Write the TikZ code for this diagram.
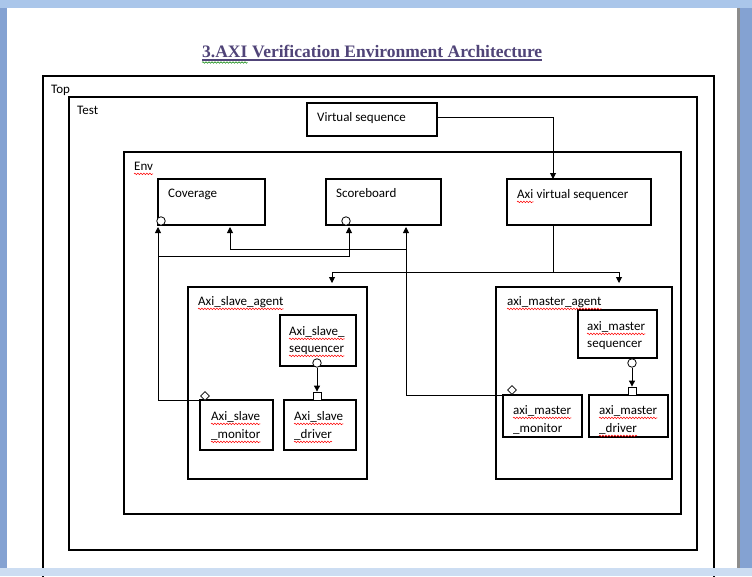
\documentclass[tikz,border=0pt]{standalone}
\usepackage{fontspec}
\setmainfont{Carlito}
\newfontfamily\titlefont{Liberation Serif}
\usetikzlibrary{arrows.meta,shapes.geometric,decorations.pathmorphing}

\definecolor{titlecol}{RGB}{80,68,120}
\definecolor{chrome}{RGB}{132,162,210}
\definecolor{chrometop}{RGB}{170,198,234}
\definecolor{chromebot}{RGB}{204,221,242}

% spell-check squiggle under a named text node
\newcommand\squig[2][red]{\draw[wave,#1] ([yshift=-3pt]#2.base west) -- ([yshift=-3pt]#2.base east);}

\begin{document}
\begin{tikzpicture}[x=1pt,y=-1pt,
    box/.style={draw,line width=1.1pt,anchor=north west,inner sep=0pt,outer sep=0pt},
    lbl/.style={anchor=mid west,inner sep=0pt,yshift=-2.5pt,font=\fontsize{13}{16}\selectfont},
    conn/.style={line width=0.9pt},
    >={Triangle[length=6pt,width=6pt]},
    wave/.style={line width=0.5pt,decorate,decoration={snake,amplitude=0.8pt,segment length=3pt}},
    lolli/.style={circle,draw,fill=white,line width=0.8pt,minimum size=8.5pt,inner sep=0pt},
    sqport/.style={rectangle,draw,fill=white,line width=0.8pt,minimum size=8pt,inner sep=0pt},
    dmport/.style={diamond,draw,fill=white,line width=0.7pt,minimum size=9pt,inner sep=0pt}]
        \useasboundingbox (0,0) rectangle (752,576);
        % window
        \fill[chrome] (0,0) rectangle (752,576);
        \fill[chrometop] (0,0) rectangle (752,8);
        \fill[white] (7,8) rectangle (737,568);
        \fill[black!45] (737,8) rectangle (740,568);
        % title
        \node[anchor=base west,inner sep=0pt,text=titlecol,font=\titlefont\fontsize{17.5}{20}\selectfont\bfseries]
            (ttlnum) at (202,57) {3.AXI};
        \node[anchor=base west,inner sep=0pt,text=titlecol,font=\titlefont\fontsize{17.5}{20}\selectfont\bfseries]
            (title) at ([xshift=4.4pt]ttlnum.base east) {Verification Environment Architecture};
        \draw[titlecol,line width=1.3pt] ([yshift=-3pt]ttlnum.base west) -- ([yshift=-3pt]title.base east);
        \draw[wave,green!50!black] ([yshift=-5.5pt]ttlnum.base west) -- ([yshift=-5.5pt]ttlnum.base east);
        % containers
        \node[box,minimum width=671pt,minimum height=530pt] (topbox) at (43,76) {};
        \node[box,minimum width=628pt,minimum height=453pt] (testbox) at (69,97) {};
        \node[box,minimum width=557pt,minimum height=362pt] (envbox) at (124,152) {};
        \node[lbl] (toptxt) at (51,89) {Top};
        \node[lbl] (testtxt) at (77,110) {Test};
        \node[lbl] (envtxt) at (134,166) {Env};
        % components
        \node[box,minimum width=130pt,minimum height=33pt] (vseq) at (307,103) {};
        \node[box,minimum width=107pt,minimum height=46pt] (cov) at (158,179) {};
        \node[box,minimum width=115pt,minimum height=46pt] (sb) at (326,179) {};
        \node[box,minimum width=144pt,minimum height=46pt] (vsqr) at (507,179) {};
        \node[lbl] (vseqtxt) at (317,117) {Virtual sequence};
        \node[lbl] (covtxt) at (168,193) {Coverage};
        \node[lbl] (sbtxt) at (336,193) {Scoreboard};
        \node[lbl] (vsqrtxt) at (517,194) {Axi};
        \node[lbl,anchor=base west] (vsqrtxtb) at ([xshift=2.9pt,yshift=2.5pt]vsqrtxt.base east) {virtual sequencer};
        % slave agent
        \node[box,minimum width=179pt,minimum height=192pt] (sagt) at (188,287) {};
        \node[box,minimum width=76pt,minimum height=51pt] (ssqr) at (280,315) {};
        \node[box,minimum width=73pt,minimum height=50pt] (smon) at (200,400) {};
        \node[box,minimum width=72pt,minimum height=50pt] (sdrv) at (284,400) {};
        \node[lbl] (sagttxt) at (198,301) {Axi\_slave\_agent};
        \node[lbl] (ssqrtxt) at (289,331) {Axi\_slave\_};
        \node[lbl] (ssqrtxtb) at (289,348) {sequencer};
        \node[lbl] (smontxt) at (211,416) {Axi\_slave};
        \node[lbl] (smontxtb) at (211,434) {\_monitor};
        \node[lbl] (sdrvtxt) at (294,416) {Axi\_slave};
        \node[lbl] (sdrvtxtb) at (294,434) {\_driver};
        % master agent
        \node[box,minimum width=176pt,minimum height=192pt] (magt) at (496,287) {};
        \node[box,minimum width=79pt,minimum height=48pt] (msqr) at (578,310) {};
        \node[box,minimum width=79pt,minimum height=42pt] (mmon) at (503,395) {};
        \node[box,minimum width=79pt,minimum height=42pt] (mdrv) at (589,395) {};
        \node[lbl] (magttxt) at (507,301) {axi\_master\_agent};
        \node[lbl] (msqrtxt) at (587,326) {axi\_master};
        \node[lbl] (msqrtxtb) at (587,343) {sequencer};
        \node[lbl] (mmontxt) at (513,410) {axi\_master};
        \node[lbl] (mmontxtb) at (513,428) {\_monitor};
        \node[lbl] (mdrvtxt) at (599,410) {axi\_master};
        \node[lbl] (mdrvtxtb) at (599,428) {\_driver};
        % squiggles
        \squig{envtxt} \squig{vsqrtxt}
        \squig{sagttxt} \squig{ssqrtxt} \squig{ssqrtxtb}
        \squig{smontxt} \squig{smontxtb} \squig{sdrvtxt} \squig{sdrvtxtb}
        \squig{magttxt} \squig{msqrtxt} \squig{mmontxt} \squig{mdrvtxt} \squig{mdrvtxtb}
        % virtual sequence flow
        \draw[conn,->] ([yshift=2pt]vseq.east) -| ([xshift=46pt]vsqr.north west);
        \coordinate (split) at (553,272);
        \draw[conn] ([xshift=46pt]vsqr.south west) -- (split);
        \draw[conn,->] (split) -| ([xshift=144pt,yshift=4pt]sagt.north west);
        \draw[conn,->] (split) -| ([xshift=123pt,yshift=4pt]magt.north west);
        % monitors to coverage and scoreboard
        \draw[conn,->] (smon.north west) -| ([yshift=-2pt]cov.south west);
        \coordinate (stap) at (158,256);
        \draw[conn,->] (stap) -| ([xshift=23pt,yshift=-2pt]sb.south west);
        \draw[conn,->] (mmon.north west) -| ([xshift=80pt,yshift=-2pt]sb.south west);
        \coordinate (mtap) at (406,249);
        \draw[conn,->] (mtap) -| ([xshift=72pt,yshift=-2pt]cov.south west);
        % ports
        \node[lolli] (covport) at (161,221) {};
        \node[lolli] (sbport) at (346,221) {};
        \node[lolli] (ssqrport) at (317,363) {};
        \node[lolli] (msqrport) at (632,363) {};
        \node[sqport] (sdrvport) at (317,396) {};
        \node[sqport] (mdrvport) at (632,391) {};
        \node[dmport] (smonport) at (205,396) {};
        \node[dmport] (mmonport) at (512,390) {};
        % sequencer to driver
        \draw[conn,->] (ssqrport) -- (sdrvport);
        \draw[conn,->] (msqrport) -- (mdrvport);
        % window bottom
        \fill[chromebot] (0,568) rectangle (752,576);
    \end{tikzpicture}
\end{document}
